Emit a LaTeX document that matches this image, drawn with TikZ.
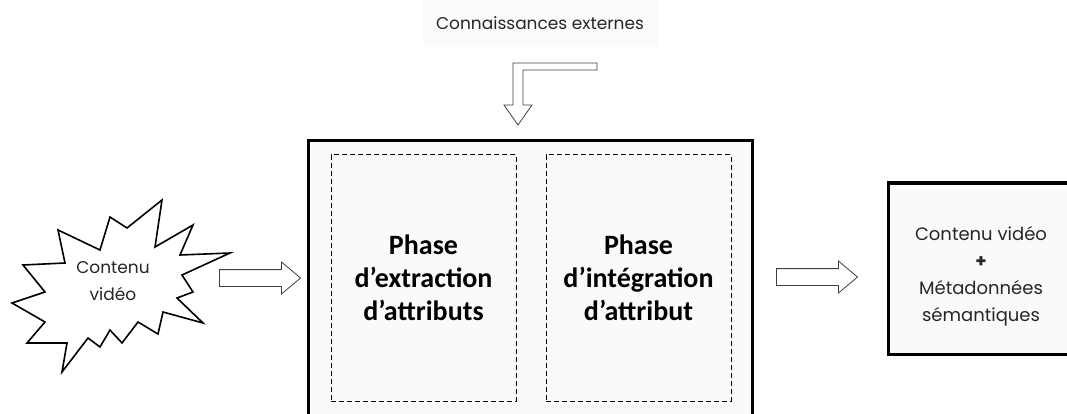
\documentclass[tikz,border=0pt]{standalone}
\usepackage{fontspec}
\setmainfont{Poppins}
\newfontfamily\phasefont{Carlito}
\usetikzlibrary{shapes.arrows}

\begin{document}
\begin{tikzpicture}[x=1pt,y=-1pt]
        \tikzset{plain/.style = {font=\fontsize{17}{27}\selectfont, text=black!85, align=center}}
        \tikzset{phase/.style = {draw, line width=1pt, dash pattern=on 5pt off 3pt, minimum width=185pt, minimum height=246pt, font=\phasefont\bfseries\fontsize{28}{33}\selectfont, align=center}}
        \tikzset{block/.style = {single arrow, draw=black!75, line width=0.8pt, fill=white, minimum height=81pt, single arrow head extend=7.5pt, single arrow tip angle=80, inner xsep=0pt, inner ysep=8pt, text height=0pt, text depth=0pt}}
        \useasboundingbox (0,0) rectangle (1067,414);
        % starburst
        \draw[line width=1.6pt, fill=white, line join=miter]
            (162,200) -- (155,247) -- (193,225) -- (180,255) -- (230,253) -- (182,275)
            -- (193,292) -- (177,298) -- (203,323) -- (163,312) -- (158,334) -- (138,322)
            -- (122,343) -- (110,330) -- (100,347) -- (88,338) -- (62,372) -- (67,343)
            -- (27,343) -- (45,322) -- (12,303) -- (45,292) -- (23,265) -- (65,263)
            -- (58,230) -- (100,250) -- (110,217) -- (127,228) -- cycle;
        % nodes
        \node[plain] (video) at (113,281) {Contenu\\vidéo};
        \node[plain, fill=black!1.5, minimum width=235pt, minimum height=47pt] (knowledge) at (540,23) {Connaissances externes};
        \node[draw, line width=3pt, fill=black!2, minimum width=444pt, minimum height=300pt] (system) at (530,291) {};
        \node[phase] (extraction) at (423.5,278) {Phase\\d’extraction\\d’attributs};
        \node[phase] (integration) at (638.5,278) {Phase\\d’intégration\\d’attribut};
        \node[draw, line width=3pt, fill=black!2, minimum width=182pt, minimum height=171pt] (output) at (979,268.5) {};
        \node[plain, font=\fontsize{18}{27}\selectfont] (outputtext) at (981,276)
            {Contenu vidéo\\\textbf{+}\\Métadonnées\\sémantiques};
        % block arrows
        \node[block] (inarrow) at (255,278) {};
        \node[block] (outarrow) at (812,277) {};
        \draw[draw=black!75, line width=0.8pt, fill=white, line join=miter]
            (513,63) -- (597,63) -- (597,70) -- (523,70) -- (523,105) -- (532,105)
            -- (518,125) -- (504,105) -- (513,105) -- cycle;
\end{tikzpicture}
\end{document}
